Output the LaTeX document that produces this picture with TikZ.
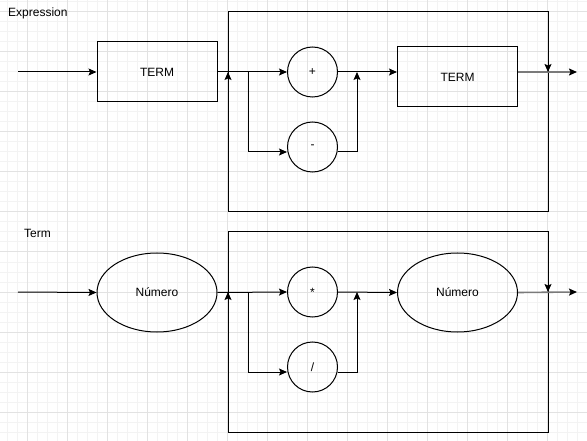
\documentclass[tikz,border=0pt]{standalone}
\usepackage{fontspec}
\setmainfont{Liberation Sans}
\usetikzlibrary{arrows.meta,shapes.geometric}
\definecolor{gridmajor}{HTML}{E2E2E2}
\definecolor{gridminor}{HTML}{F3F3F3}
\definecolor{outgray}{HTML}{7A7A7A}
\begin{document}
\begin{tikzpicture}[x=1pt,y=-1pt,
  every node/.style={font=\fontsize{12}{14}\selectfont},
  ln/.style={line width=1pt,black},
  arr/.style={ln,-{Stealth[length=8pt,width=7pt,inset=1.5pt]}},
  outarr/.style={line width=1.6pt,outgray,-{Stealth[length=8pt,width=7pt,inset=1.5pt,color=black]}},
  rectbox/.style={draw,line width=1pt,minimum width=120pt,minimum height=60pt,inner sep=0pt},
  oval/.style={draw,ellipse,line width=1pt,minimum width=120pt,minimum height=79pt,inner sep=0pt},
  circ/.style={draw,circle,line width=1pt,minimum size=50pt,inner sep=0pt},
  frame/.style={draw,line width=1pt,minimum width=320pt,minimum height=200pt,inner sep=0pt},
  lbl/.style={anchor=west,inner sep=0pt}
]
\useasboundingbox (0,0) rectangle (587,441);
\fill[white] (0,0) rectangle (587,441);
% grid
\foreach \x in {7,17,...,587} \draw[gridminor,line width=1pt] (\x,0) -- (\x,441);
\foreach \y in {2,12,...,441} \draw[gridminor,line width=1pt] (0,\y) -- (587,\y);
\foreach \x in {27,67,...,587} \draw[gridmajor,line width=1pt] (\x,0) -- (\x,441);
\foreach \y in {12,52,...,441} \draw[gridmajor,line width=1pt] (0,\y) -- (587,\y);

% ===== Expression =====
\node[lbl] (exlbl) at (8,13) {Expression};
\node[frame] (frameA) at (388,112) {};
\node[rectbox] (termA) at (157,72) {TERM};
\node[circ] (plus) at (312.5,72) {+};
\node[circ] (minus) at (312.5,147) {-};
\node[rectbox] (termB) at (457.5,77) {TERM};

\coordinate (inA) at (18,72);
\coordinate (brA) at (248,72);
\coordinate (brAd) at (248,152);
\coordinate (jnA) at (357,72);
\coordinate (jnAd) at (357,152);
\coordinate (upA0) at (228,212);
\coordinate (upA1) at (228,72);
\coordinate (dnA0) at (548,12);
\coordinate (dnA1) at (548,72);
\coordinate (outA) at (577,72);

\draw[arr] (inA) -- (termA.west);
\draw[arr] (termA.east) -- (plus.west);
\draw[arr] (brA) -- (brAd) -- (minus.west |- brAd);
\draw[arr] (plus.east) -- (termB.west |- plus.east);
\draw[arr] (minus.east |- jnAd) -- (jnAd) -- (jnA);
\draw[arr] (upA0) -- (upA1);
\draw[outarr] (termB.east |- dnA1) -- (outA);
\draw[arr] (dnA0) -- (dnA1);

% ===== Term =====
\node[lbl] (tmlbl) at (24,233) {Term};
\node[frame] (frameB) at (388,332) {};
\node[oval] (numA) at (157,292.5) {Número};
\node[circ] (times) at (312.5,292) {*};
\node[circ] (divide) at (312.5,367) {/};
\node[oval] (numB) at (457.5,292.5) {Número};

\coordinate (inB) at (18,292);
\coordinate (brB) at (248,292);
\coordinate (brBd) at (248,372);
\coordinate (jnB) at (357,292);
\coordinate (jnBd) at (357,372);
\coordinate (upB0) at (228,432);
\coordinate (upB1) at (228,292);
\coordinate (dnB0) at (548,232);
\coordinate (dnB1) at (548,292);
\coordinate (outB) at (577,292);

\draw[arr] (inB) -- (numA.west);
\draw[arr] (numA.east) -- (times.west);
\draw[arr] (brB) -- (brBd) -- (divide.west |- brBd);
\draw[arr] (times.east) -- (numB.west);
\draw[arr] (divide.east |- jnBd) -- (jnBd) -- (jnB);
\draw[arr] (upB0) -- (upB1);
\draw[outarr] (numB.east) -- (outB);
\draw[arr] (dnB0) -- (dnB1);
\end{tikzpicture}
\end{document}
